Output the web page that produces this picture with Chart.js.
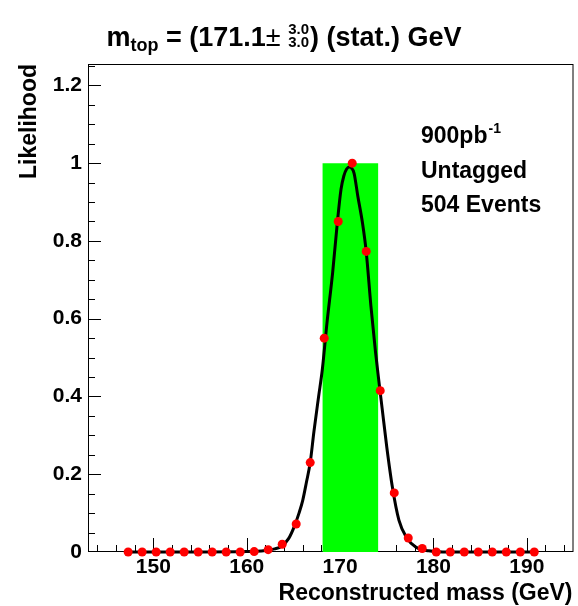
<!DOCTYPE html>
<html lang="en">
<head>
<meta charset="utf-8">
<title>Top mass likelihood</title>
<script src="https://cdn.jsdelivr.net/npm/chart.js@4.4.1/dist/chart.umd.min.js"></script>
<style>
  html, body { margin: 0; padding: 0; background: #fff; }
  canvas { display: block; }
</style>
</head>
<body>
<canvas id="chart-0" width="578" height="606"></canvas>
<script>
  // red markers: likelihood scan
  const massPoints = [147.3, 148.8, 150.3, 151.8, 153.3, 154.8, 156.3, 157.8, 159.3, 160.8,
                      162.3, 163.8, 165.3, 166.8, 168.3, 169.8, 171.3, 172.8, 174.3, 175.8,
                      177.3, 178.8, 180.3, 181.8, 183.3, 184.8, 186.3, 187.8, 189.3, 190.8];
  const likePoints = [0, 0, 0, 0, 0, 0, 0, 0, 0, 0.001,
                      0.006, 0.02, 0.072, 0.23, 0.55, 0.85, 1.0, 0.773, 0.415, 0.152,
                      0.036, 0.009, 0, 0, 0, 0, 0, 0, 0, 0];

  // black curve: fit
  const curveMass = [147.3, 150, 155, 160, 161, 162, 163, 163.7, 164.5, 165.1, 165.6, 166.0,
                     166.4, 166.8, 167.2, 167.7, 168.1, 168.6, 169.2, 169.7, 170.1, 170.4,
                     170.7, 171.0, 171.2, 171.5, 171.9, 172.4, 172.8, 173.3, 173.8, 174.2,
                     174.5, 175.0, 175.6, 176.3, 177.1, 178.1, 179.5, 181, 185, 190.8];
  const curveLike = [0, 0, 0, 0.001, 0.002, 0.004, 0.008, 0.014, 0.035, 0.066, 0.1, 0.133,
                     0.18, 0.23, 0.31, 0.40, 0.47, 0.59, 0.718, 0.846, 0.933, 0.967,
                     0.985, 0.99, 0.988, 0.974, 0.915, 0.846, 0.772, 0.633, 0.513, 0.43,
                     0.37, 0.27, 0.167, 0.082, 0.038, 0.013, 0.003, 0, 0, 0];

  // green 1 sigma band
  const bandMass = [168.1, 168.1, 174.1, 174.1];
  const bandLike = [0, 1.0, 1.0, 0];

  const xTicks = [150, 160, 170, 180, 190];
  const yTicks = [0, 0.2, 0.4, 0.6, 0.8, 1, 1.2];
  const infoLines = ['Untagged', '504 Events'];

  const FONT = '"Liberation Sans", Arial, Helvetica, sans-serif';
  Chart.defaults.font.family = FONT;

  function pairs(xs, ys) {
    return xs.map((v, i) => ({x: v, y: ys[i]}));
  }

  // frame + inward ticks, ROOT style
  const framePlugin = {
    id: 'frame',
    beforeDatasetsDraw(chart) {
      const {ctx, chartArea: a, scales: {x, y}} = chart;
      ctx.save();
      ctx.strokeStyle = '#000';
      ctx.lineWidth = 1;
      ctx.strokeRect(a.left + 0.5, a.top + 0.5, a.right - a.left - 1, a.bottom - a.top - 1);
      ctx.beginPath();
      for (let v = 144; v <= 194; v += 2) {
        const px = Math.round(x.getPixelForValue(v)) + 0.5;
        const len = v % 10 === 0 ? 14 : 7;
        ctx.moveTo(px, a.bottom);
        ctx.lineTo(px, a.bottom - len);
      }
      for (let i = 1; i <= 25; i++) {
        const py = Math.round(y.getPixelForValue(i * 0.05)) + 0.5;
        const len = i % 4 === 0 ? 13 : 7;
        ctx.moveTo(a.left, py);
        ctx.lineTo(a.left + len, py);
      }
      ctx.stroke();
      ctx.restore();
    }
  };

  const textPlugin = {
    id: 'texts',
    afterDraw(chart) {
      const {ctx, chartArea: a} = chart;
      ctx.save();
      ctx.fillStyle = '#000';
      ctx.textBaseline = 'alphabetic';

      // title: m_top = (171.1 +- 3.0/3.0) (stat.) GeV
      const big = 'bold 27px ' + FONT;
      const sub = 'bold 18px ' + FONT;
      const small = 'bold 15px ' + FONT;
      const pm = '27px ' + FONT;
      const parts = [
        {t: 'm', f: big, dy: 0},
        {t: 'top', f: sub, dy: 5},
        {t: ' = (171.1', f: big, dy: 0},
        {t: '\u00b1 ', f: pm, dy: 0},
        {stack: ['3.0', '3.0'], f: small},
        {t: ') (stat.) GeV', f: big, dy: 0}
      ];
      let total = 0;
      parts.forEach(p => {
        ctx.font = p.f;
        p.w = p.stack ? Math.max(...p.stack.map(s => ctx.measureText(s).width)) + 1 : ctx.measureText(p.t).width;
        total += p.w;
      });
      let cx = 284 - total / 2;
      const base = 46;
      parts.forEach(p => {
        ctx.font = p.f;
        if (p.stack) {
          ctx.fillText(p.stack[0], cx, base - 12);
          ctx.fillText(p.stack[1], cx, base + 1);
        } else {
          ctx.fillText(p.t, cx, base + p.dy);
        }
        cx += p.w;
      });

      // info block
      const info = 'bold 23px ' + FONT;
      ctx.font = info;
      ctx.fillText('900pb', 421, 143);
      const w900 = ctx.measureText('900pb').width;
      ctx.font = 'bold 14px ' + FONT;
      ctx.fillText('-1', 421 + w900 + 1, 133);
      ctx.font = info;
      infoLines.forEach((s, i) => ctx.fillText(s, 421, 178 + i * 34));

      // axis titles
      ctx.font = 'bold 23px ' + FONT;
      ctx.textAlign = 'right';
      ctx.fillText('Reconstructed mass (GeV)', a.right - 1, 600);
      ctx.translate(36, a.top);
      ctx.rotate(-Math.PI / 2);
      ctx.fillText('Likelihood', 0, 0);
      ctx.restore();
    }
  };

  const chart = new Chart('chart-0', {
    type: 'line',
    data: {
      datasets: [
        {
          label: 'scan',
          data: pairs(massPoints, likePoints),
          showLine: false,
          pointRadius: 4.5,
          pointBackgroundColor: '#ff0000',
          pointBorderWidth: 0,
          clip: false
        },
        {
          label: 'fit',
          data: pairs(curveMass, curveLike),
          borderColor: '#000',
          borderWidth: 3,
          pointRadius: 0,
          cubicInterpolationMode: 'monotone',
          clip: false
        },
        {
          label: 'band',
          data: pairs(bandMass, bandLike),
          borderWidth: 0,
          borderColor: 'rgba(0,0,0,0)',
          backgroundColor: '#00ff00',
          fill: 'origin',
          pointRadius: 0
        }
      ]
    },
    options: {
      responsive: false,
      animation: false,
      events: [],
      layout: {padding: {top: 64, right: 3, left: 0, bottom: 0}},
      plugins: {legend: {display: false}, tooltip: {enabled: false}},
      scales: {
        x: {
          type: 'linear',
          min: 143,
          max: 195,
          grid: {display: false, drawTicks: false},
          border: {display: false},
          afterBuildTicks: s => { s.ticks = xTicks.map(v => ({value: v})); },
          afterFit: s => { s.height = 54; },
          ticks: {color: '#000', padding: 3, maxRotation: 0, font: {size: 21, weight: 'bold'}}
        },
        y: {
          min: 0,
          max: 1.255,
          grid: {display: false, drawTicks: false},
          border: {display: false},
          afterBuildTicks: s => { s.ticks = yTicks.map(v => ({value: v})); },
          afterFit: s => { s.width = 88; },
          ticks: {
            color: '#000', padding: 6, font: {size: 21, weight: 'bold'},
            callback: v => String(Math.round(v * 10) / 10)
          }
        }
      }
    },
    plugins: [framePlugin, textPlugin]
  });
</script>
</body>
</html>
